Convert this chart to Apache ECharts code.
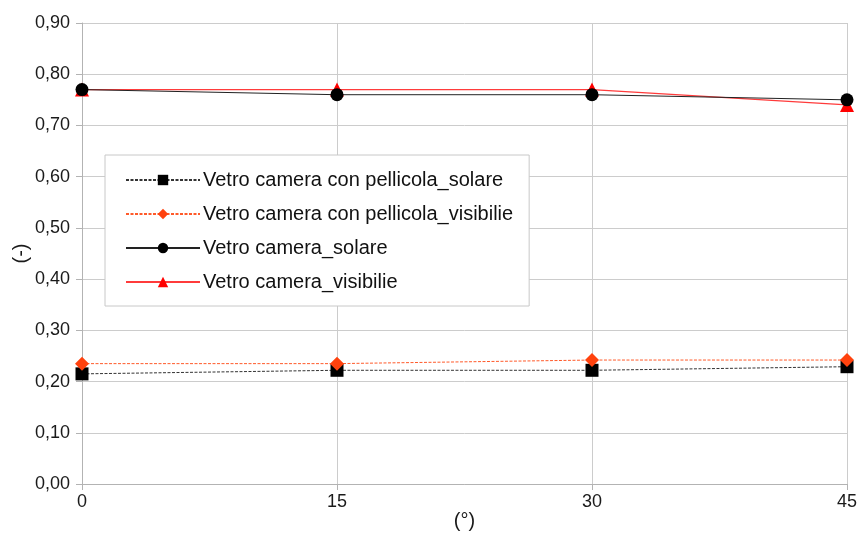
<!DOCTYPE html>
<html>
<head>
<meta charset="utf-8">
<script src="https://cdn.jsdelivr.net/npm/echarts@6/dist/echarts.min.js"></script>
<style>
  html, body { margin: 0; padding: 0; background: #fff; }
  #chart { width: 858px; height: 533px; }
</style>
</head>
<body>
<div id="chart"></div>
<script>
// Incidence angles (°)
const angles = [0, 15, 30, 45];

// Transmittance values (-)
const pellicolaSolare = [0.215, 0.222, 0.222, 0.229];
const pellicolaVisibile = [0.235, 0.235, 0.242, 0.242];
const cameraSolare = [0.77, 0.76, 0.76, 0.75];
const cameraVisibile = [0.77, 0.77, 0.77, 0.74];

const seriesNames = [
  'Vetro camera con pellicola_solare',
  'Vetro camera con pellicola_visibilie',
  'Vetro camera_solare',
  'Vetro camera_visibilie'
];

const pair = (vals) => angles.map((a, i) => [a, vals[i]]);

const chart = echarts.init(document.getElementById('chart'), null, { renderer: 'canvas' });
const font = 'Liberation Sans, Arial, sans-serif';

chart.setOption({
  animation: false,
  backgroundColor: '#fff',
  textStyle: { fontFamily: font },
  grid: {
    left: 82, right: 11, top: 23, bottom: 49,
    containLabel: false,
    outerBoundsMode: 'none'
  },
  xAxis: {
    type: 'value',
    min: 0, max: 45, interval: 15,
    name: '(°)',
    nameLocation: 'middle',
    nameGap: 27,
    nameMoveOverlap: false,
    nameTextStyle: { fontSize: 20, color: '#1a1a1a', fontFamily: font },
    axisLine: { show: true, lineStyle: { color: '#b3b3b3', width: 1 } },
    axisTick: { show: true, length: 6, lineStyle: { color: '#b3b3b3' } },
    axisLabel: { fontSize: 18, color: '#1a1a1a', margin: 9, fontFamily: font },
    splitLine: { show: true, lineStyle: { color: '#cccccc', width: 1 } }
  },
  yAxis: {
    type: 'value',
    min: 0, max: 0.9, interval: 0.1,
    name: '(-)',
    nameLocation: 'middle',
    nameGap: 51,
    nameRotate: 90,
    nameMoveOverlap: false,
    nameTextStyle: { fontSize: 20, color: '#1a1a1a', fontFamily: font },
    axisLine: { show: true, lineStyle: { color: '#b3b3b3', width: 1 } },
    axisTick: { show: true, length: 6, lineStyle: { color: '#b3b3b3' } },
    axisLabel: {
      fontSize: 18, color: '#1a1a1a', margin: 12, fontFamily: font,
      formatter: (v) => v.toFixed(2).replace('.', ',')
    },
    splitLine: { show: true, lineStyle: { color: '#cccccc', width: 1 } }
  },
  legend: {
    orient: 'vertical',
    left: 105,
    top: 155,
    padding: [15, 16, 14, 20],
    backgroundColor: '#fff',
    borderColor: '#c8c8c8',
    borderWidth: 1,
    borderRadius: 0,
    itemWidth: 74,
    itemHeight: 13,
    itemGap: 14,
    textStyle: { fontSize: 20, color: '#111', fontFamily: font, padding: [0, 0, 0, -2] },
    data: seriesNames
  },
  series: [
    {
      name: seriesNames[3],
      type: 'line',
      data: pair(cameraVisibile),
      symbol: 'triangle',
      symbolSize: 14,
      color: '#ff0000',
      lineStyle: { color: '#ff3b3b', width: 1.2, type: 'solid' },
      itemStyle: { color: '#ff0000' },
      z: 2
    },
    {
      name: seriesNames[2],
      type: 'line',
      data: pair(cameraSolare),
      symbol: 'circle',
      symbolSize: 13,
      color: '#000000',
      lineStyle: { color: '#222', width: 1, type: 'solid' },
      itemStyle: { color: '#000000' },
      z: 3
    },
    {
      name: seriesNames[0],
      type: 'line',
      data: pair(pellicolaSolare),
      symbol: 'rect',
      symbolSize: 13,
      color: '#000000',
      lineStyle: { color: '#333', width: 1, type: [3, 1.5] },
      itemStyle: { color: '#000000' },
      z: 2
    },
    {
      name: seriesNames[1],
      type: 'line',
      data: pair(pellicolaVisibile),
      symbol: 'diamond',
      symbolSize: 14,
      color: '#ff420e',
      lineStyle: { color: '#ff5a2a', width: 1, type: [3, 1.5] },
      itemStyle: { color: '#ff420e' },
      z: 3
    }
  ]
});
</script>
</body>
</html>
